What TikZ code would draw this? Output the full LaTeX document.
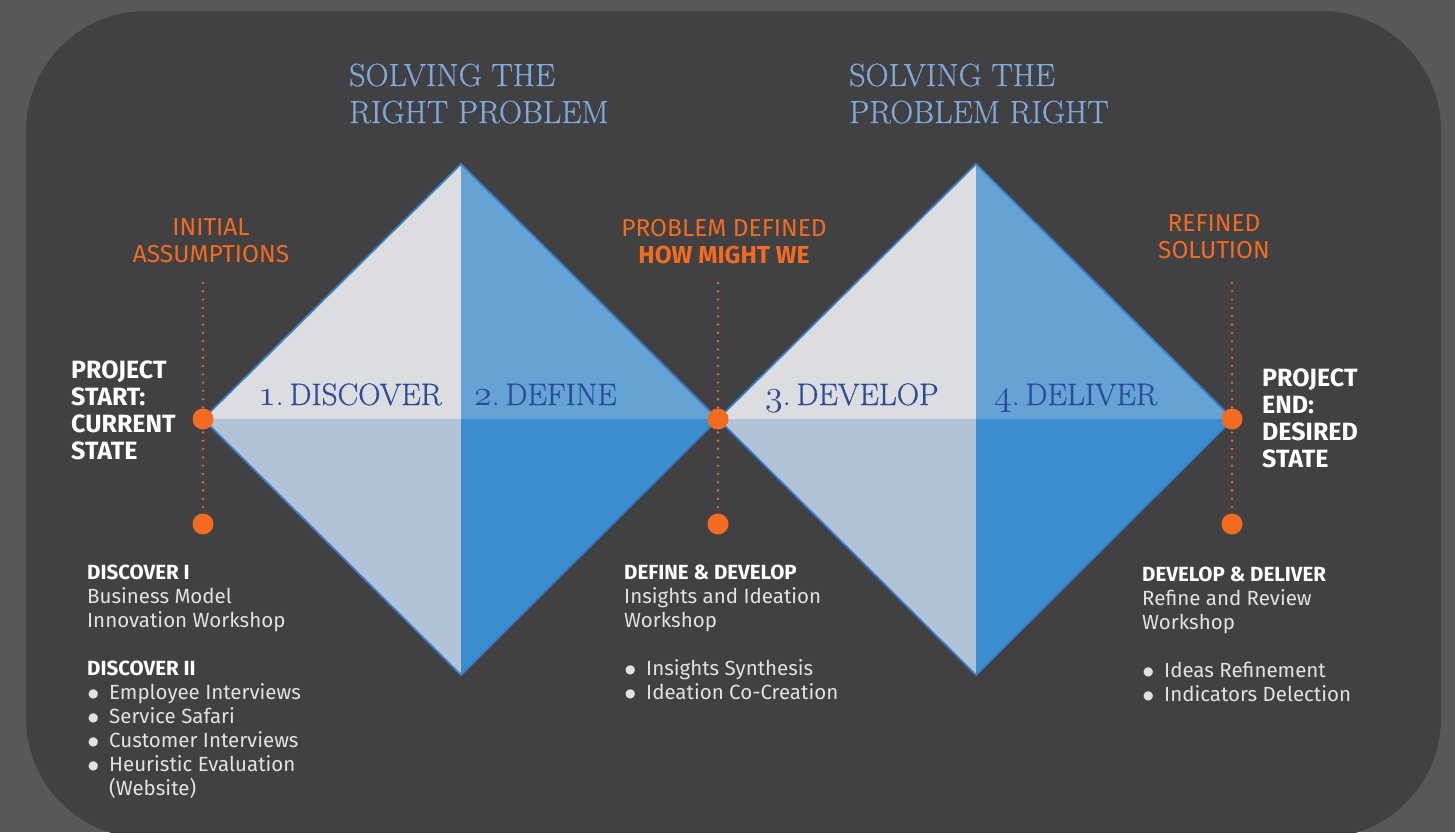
\documentclass[tikz,border=0pt]{standalone}
\usepackage{graphicx}
\usepackage{fontspec}
\newfontfamily\dinfont{Fira Sans}
\newfontfamily\symfont{DejaVu Sans}
\newfontfamily\headfont{Latin Modern Roman}[FakeBold=0.6]
\definecolor{outerbg}{HTML}{58585A}
\definecolor{innerbg}{HTML}{414143}
\definecolor{qtl}{HTML}{DCDDE0}
\definecolor{qtr}{HTML}{65A3D4}
\definecolor{qbl}{HTML}{B0C3D7}
\definecolor{qbr}{HTML}{3A8ECF}
\definecolor{edgeblue}{HTML}{3A7DC6}
\definecolor{titleblue}{HTML}{7EA9DA}
\definecolor{phaseblue}{HTML}{2B4A9A}
\definecolor{accent}{HTML}{F26B21}
\definecolor{bodygray}{HTML}{E2E2E2}
% old-style figure taken from the math italic font, enlarged
\newcommand{\osnum}[1]{\scalebox{1.45}{\fontsize{24.88}{30}\usefont{OML}{cmm}{m}{it}#1}}
\newcommand{\phasename}[2]{\osnum{#1}.\hspace{6pt}#2}
\newcommand{\bul}[1]{\makebox[22pt][l]{\hspace{1pt}{\symfont\fontsize{12}{24}\selectfont\raisebox{1.2pt}{●}}}#1}
\newcommand{\cont}[1]{\makebox[22pt][l]{}#1}
\begin{document}
\begin{tikzpicture}[x=1pt,y=-1pt,
  title/.style={anchor=base west,inner sep=0pt,text=titleblue,align=left,
    font=\headfont\fontsize{32}{37}\selectfont},
  phase/.style={anchor=base west,inner sep=0pt,text=phaseblue,
    font=\headfont\fontsize{31}{37}\selectfont},
  milestone/.style={anchor=base,inner sep=0pt,text=accent,align=center,
    font=\dinfont\fontsize{24.5}{26.5}\selectfont},
  state/.style={anchor=base west,inner sep=0pt,text=white,align=left,
    font=\dinfont\bfseries\fontsize{25}{26.7}\selectfont},
  body/.style={anchor=base west,inner sep=0pt,text=bodygray,align=left,
    font=\dinfont\fontsize{20.5}{24}\selectfont},
  dot/.style={circle,fill=accent,inner sep=0pt,minimum size=21pt},
  dotline/.style={accent,line width=2.6pt,line cap=round,dash pattern=on 0pt off 8.3pt},
  edge/.style={edgeblue,line width=1.8pt,line join=miter}]
\useasboundingbox (0,0) rectangle (1455,832);
% backdrop and rounded panel
\fill[outerbg] (0,0) rectangle (1455,832);
\begin{scope}
  \clip (0,0) rectangle (1455,832);
  \fill[innerbg,rounded corners=120pt] (26,11) rectangle (1441,838);
\end{scope}
% the two diamonds, each split into four quadrants
\foreach \dx in {0,515}{
  \begin{scope}[xshift=\dx pt]
    \fill[qtl] (203,419) -- (461,164) -- (461,419) -- cycle;
    \fill[qtr] (461,164) -- (718,419) -- (461,419) -- cycle;
    \fill[qbl] (203,419) -- (461,419) -- (461,675) -- cycle;
    \fill[qbr] (461,419) -- (718,419) -- (461,675) -- cycle;
    \draw[edge] (203,419) -- (461,164) -- (718,419) -- (461,675) -- cycle;
  \end{scope}
}
% headings (anchored on the baseline of their last line)
\node[title] (h1) at (349,123) {SOLVING THE\\RIGHT PROBLEM};
\node[title] (h2) at (849,123) {SOLVING THE\\PROBLEM RIGHT};
% phase names
\node[phase] (p1) at (258,405) {\phasename{1}{DISCOVER}};
\node[phase] (p2) at (474,405) {\phasename{2}{DEFINE}};
\node[phase] (p3) at (765,405) {\phasename{3}{DEVELOP}};
\node[phase] (p4) at (994,405) {\phasename{4}{DELIVER}};
% milestone markers
\coordinate (t1) at (203,283);
\coordinate (t2) at (718,283);
\coordinate (t3) at (1232,283);
\node[dot] (b1) at (203,524) {};
\node[dot] (b2) at (718,524) {};
\node[dot] (b3) at (1232,524) {};
\draw[dotline] (t1) -- (b1);
\draw[dotline] (t2) -- (b2);
\draw[dotline] (t3) -- (b3);
\node[dot] (m1) at (203,419) {};
\node[dot] (m2) at (718,419) {};
\node[dot] (m3) at (1232,419) {};
% milestone captions
\node[milestone] (c1) at (211,262) {INITIAL\\ASSUMPTIONS};
\node[milestone] (c2) at (724,263) {PROBLEM DEFINED\\\textbf{HOW MIGHT WE}};
\node[milestone] (c3) at (1214,258) {REFINED\\SOLUTION};
% start and end states
\node[state] (s1) at (71,459) {PROJECT\\START:\\CURRENT\\STATE};
\node[state] (s2) at (1262,467) {PROJECT\\END:\\DESIRED\\STATE};
% activities under each milestone
\node[body] (a1) at (87,795) {\textbf{\color{white}DISCOVER I}\\Business Model\\Innovation Workshop\\[24pt]
  \textbf{\color{white}DISCOVER II}\\\bul{Employee Interviews}\\\bul{Service Safari}\\
  \bul{Customer Interviews}\\\bul{Heuristic Evaluation}\\\cont{(Website)}};
\node[body] (a2) at (624,699) {\textbf{\color{white}DEFINE \& DEVELOP}\\Insights and Ideation\\Workshop\\[24pt]
  \bul{Insights Synthesis}\\\bul{Ideation Co-Creation}};
\node[body] (a3) at (1142,701) {\textbf{\color{white}DEVELOP \& DELIVER}\\Refine and Review\\Workshop\\[24pt]
  \bul{Ideas Refinement}\\\bul{Indicators Delection}};
\end{tikzpicture}
\end{document}
